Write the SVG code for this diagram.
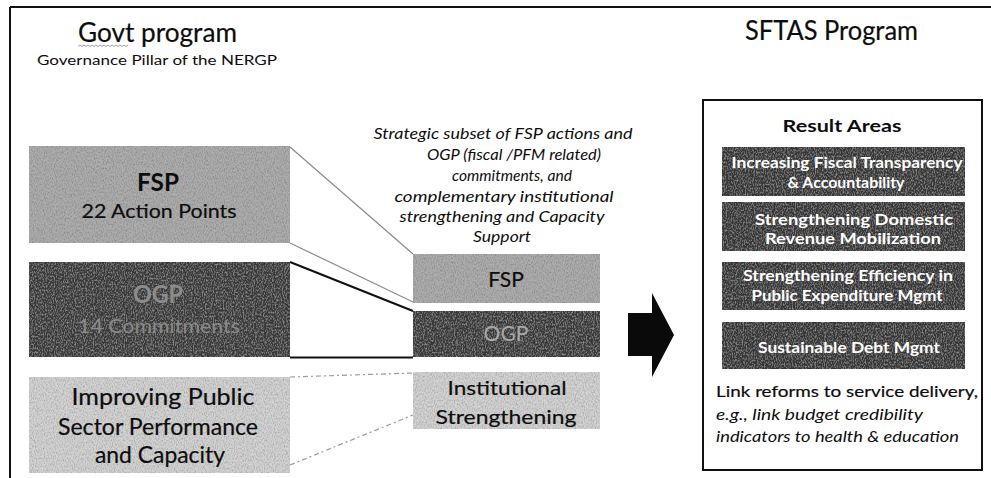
<svg xmlns="http://www.w3.org/2000/svg" width="991" height="478" viewBox="0 0 991 478">
  <style>
    .t { font-family: Lato, "Liberation Sans", sans-serif; fill: #0d0d0d; }
    .heavy { stroke: #0d0d0d; stroke-width: 0.2; }
    .it { font-style: italic; }
    .b { font-weight: bold; }
    .mid { text-anchor: middle; }
    .light { fill: #d3d3d3; }
    .medium { fill: #adadad; }
    .dark { fill: #383838; }
    .res { fill: #363636; }
    .rtxt { font-family: Lato, "Liberation Sans", sans-serif; font-weight: bold; fill: #ffffff; text-anchor: middle; }
    .link-thin { stroke: #8a8a8a; stroke-width: 1.2; fill: none; }
    .link-bold { stroke: #111; stroke-width: 2; fill: none; }
    .link-dash { stroke: #9a9a9a; stroke-width: 1.2; stroke-dasharray: 5 3 2 3; fill: none; }
  </style>
  <defs>
    <!-- fine grain used on the shaded panels -->
    <filter id="grain" x="0" y="0" width="100%" height="100%">
      <feTurbulence type="fractalNoise" baseFrequency="0.9 0.5" numOctaves="2" seed="7" result="n"/>
      <feColorMatrix in="n" type="matrix" values="0 0 0 0 0  0 0 0 0 0  0 0 0 0 0  0.9 0 0 0 -0.35" result="speck"/>
      <feComposite in="speck" in2="SourceGraphic" operator="in" result="speckIn"/>
      <feMerge>
        <feMergeNode in="SourceGraphic"/>
        <feMergeNode in="speckIn"/>
      </feMerge>
    </filter>
    <filter id="grainLight" x="0" y="0" width="100%" height="100%">
      <feTurbulence type="fractalNoise" baseFrequency="0.9 0.5" numOctaves="2" seed="11" result="n"/>
      <feColorMatrix in="n" type="matrix" values="0 0 0 0 1  0 0 0 0 1  0 0 0 0 1  0.6 0 0 0 -0.26" result="speck"/>
      <feComposite in="speck" in2="SourceGraphic" operator="in" result="speckIn"/>
      <feMerge>
        <feMergeNode in="SourceGraphic"/>
        <feMergeNode in="speckIn"/>
      </feMerge>
    </filter>
  </defs>

  <rect width="991" height="478" fill="#ffffff"/>

  <!-- page frame -->
  <g id="frame">
    <line x1="10" y1="7" x2="991" y2="7" stroke="#111" stroke-width="2"/>
    <line x1="10" y1="7" x2="10" y2="478" stroke="#111" stroke-width="2"/>
  </g>

  <!-- headings -->
  <g id="govt-heading">
    <text class="t heavy" x="78" y="42" font-size="26" textLength="159" lengthAdjust="spacingAndGlyphs" stroke-width="0.4">Govt program</text>
    <path d="M78 46.5 l2 -1.5 l2 1.5 l2 -1.5 l2 1.5 l2 -1.5 l2 1.5 l2 -1.5 l2 1.5 l2 -1.5 l2 1.5 l2 -1.5 l2 1.5 l2 -1.5 l2 1.5 l2 -1.5 l2 1.5 l2 -1.5 l2 1.5 l2 -1.5 l2 1.5 l2 -1.5 l2 1.5 l2 -1.5 l2 1.5 l2 -1.5" stroke="#888" stroke-width="0.8" fill="none"/>
    <text class="t" x="37" y="65" font-size="14" textLength="240" lengthAdjust="spacingAndGlyphs">Governance Pillar of the NERGP</text>
  </g>
  <g id="sftas-heading">
    <text class="t heavy" x="745" y="40" font-size="26" textLength="173" lengthAdjust="spacingAndGlyphs" stroke-width="0.4">SFTAS Program</text>
  </g>

  <!-- connectors between government pillars and the strategic subset -->
  <g id="connectors">
    <line class="link-thin" x1="290" y1="147" x2="413" y2="254"/>
    <line class="link-thin" x1="290" y1="243" x2="413" y2="302"/>
    <line class="link-bold" x1="290" y1="262" x2="413" y2="311"/>
    <line class="link-bold" x1="290" y1="357.5" x2="413" y2="357.5"/>
    <line class="link-dash" x1="290" y1="377" x2="413" y2="373"/>
    <line class="link-dash" x1="290" y1="465" x2="413" y2="415"/>
  </g>

  <!-- government pillars -->
  <g id="fsp-pillar">
    <rect class="medium" x="29" y="146" width="261" height="97" filter="url(#grain)"/>
    <text class="t b mid" x="158" y="191" font-size="24" textLength="42" lengthAdjust="spacingAndGlyphs">FSP</text>
    <text class="t heavy mid" x="159" y="218" font-size="19" textLength="155" lengthAdjust="spacingAndGlyphs">22 Action Points</text>
  </g>
  <g id="ogp-pillar">
    <rect class="dark" x="29" y="262" width="261" height="95" filter="url(#grainLight)"/>
    <text class="t b mid" x="158" y="303" font-size="24" style="fill:#8c8c8c" textLength="50" lengthAdjust="spacingAndGlyphs">OGP</text>
    <text class="t mid" x="159" y="333" font-size="19" style="fill:#8a8a8a" textLength="162" lengthAdjust="spacingAndGlyphs">14 Commitments</text>
  </g>
  <g id="public-sector-pillar">
    <rect class="light" x="29" y="377" width="261" height="96" filter="url(#grain)"/>
    <text class="t heavy mid" x="163" y="405" font-size="23" textLength="183" lengthAdjust="spacingAndGlyphs">Improving Public</text>
    <text class="t heavy mid" x="158" y="435" font-size="23" textLength="200" lengthAdjust="spacingAndGlyphs">Sector Performance</text>
    <text class="t heavy mid" x="160" y="463" font-size="23" textLength="130" lengthAdjust="spacingAndGlyphs">and Capacity</text>
  </g>

  <!-- strategic subset description -->
  <g id="subset-caption">
    <text class="t it mid" x="503" y="139" font-size="16" textLength="259" lengthAdjust="spacingAndGlyphs">Strategic subset of FSP actions and</text>
    <text class="t it mid" x="514" y="160" font-size="16" textLength="174" lengthAdjust="spacingAndGlyphs">OGP (fiscal /PFM related)</text>
    <text class="t it mid" x="512" y="181" font-size="16" textLength="120" lengthAdjust="spacingAndGlyphs">commitments, and</text>
    <text class="t it mid" x="504" y="202" font-size="16" textLength="219" lengthAdjust="spacingAndGlyphs">complementary institutional</text>
    <text class="t it mid" x="502" y="222" font-size="16" textLength="205" lengthAdjust="spacingAndGlyphs">strengthening and Capacity</text>
    <text class="t it mid" x="502" y="242" font-size="16" textLength="58" lengthAdjust="spacingAndGlyphs">Support</text>
  </g>

  <!-- strategic subset blocks -->
  <g id="subset-fsp">
    <rect class="medium" x="413" y="254" width="187" height="49" filter="url(#grain)"/>
    <text class="t heavy mid" x="506" y="287" font-size="21">FSP</text>
  </g>
  <g id="subset-ogp">
    <rect class="dark" x="413" y="311" width="187" height="46" filter="url(#grainLight)"/>
    <text class="t mid" x="506" y="341" font-size="21" style="fill:#a8a8a8">OGP</text>
  </g>
  <g id="subset-institutional">
    <rect class="light" x="413" y="372" width="187" height="57" filter="url(#grain)"/>
    <text class="t heavy mid" x="507" y="395" font-size="20" textLength="119" lengthAdjust="spacingAndGlyphs">Institutional</text>
    <text class="t heavy mid" x="506" y="424" font-size="20" textLength="141" lengthAdjust="spacingAndGlyphs">Strengthening</text>
  </g>

  <!-- block arrow -->
  <g id="arrow">
    <polygon points="628,313 652,313 652,293 674,335 652,377 652,356 628,356" fill="#0a0a0a"/>
  </g>

  <!-- SFTAS result areas -->
  <g id="result-areas">
    <rect x="703" y="100" width="279" height="370" fill="#ffffff" stroke="#111" stroke-width="2"/>
    <text class="t b mid" x="842" y="132" font-size="17" textLength="119" lengthAdjust="spacingAndGlyphs">Result Areas</text>
  </g>
  <g id="result-transparency">
    <rect class="res" x="722" y="147" width="243" height="49" filter="url(#grainLight)"/>
    <text class="rtxt" x="847" y="168" font-size="16" textLength="231" lengthAdjust="spacingAndGlyphs">Increasing Fiscal Transparency</text>
    <text class="rtxt" x="846" y="188" font-size="16" textLength="117" lengthAdjust="spacingAndGlyphs">&amp; Accountability</text>
  </g>
  <g id="result-revenue">
    <rect class="res" x="722" y="202" width="243" height="49" filter="url(#grainLight)"/>
    <text class="rtxt" x="854" y="225" font-size="16" textLength="198" lengthAdjust="spacingAndGlyphs">Strengthening Domestic</text>
    <text class="rtxt" x="853" y="244" font-size="16" textLength="176" lengthAdjust="spacingAndGlyphs">Revenue Mobilization</text>
  </g>
  <g id="result-expenditure">
    <rect class="res" x="722" y="262" width="243" height="48" filter="url(#grainLight)"/>
    <text class="rtxt" x="848" y="281" font-size="16" textLength="210" lengthAdjust="spacingAndGlyphs">Strengthening  Efficiency in</text>
    <text class="rtxt" x="847" y="301" font-size="16" textLength="191" lengthAdjust="spacingAndGlyphs">Public Expenditure Mgmt</text>
  </g>
  <g id="result-debt">
    <rect class="res" x="722" y="322" width="243" height="47" filter="url(#grainLight)"/>
    <text class="rtxt" x="849" y="353" font-size="16" textLength="182" lengthAdjust="spacingAndGlyphs">Sustainable Debt Mgmt</text>
  </g>
  <g id="result-note">
    <text class="t heavy" x="716" y="397" font-size="16" textLength="262" lengthAdjust="spacingAndGlyphs">Link reforms to service delivery,</text>
    <text class="t it" x="716" y="420" font-size="16" textLength="207" lengthAdjust="spacingAndGlyphs">e.g., link budget credibility</text>
    <text class="t it" x="716" y="442" font-size="16" textLength="243" lengthAdjust="spacingAndGlyphs">indicators to health &amp; education</text>
  </g>
</svg>
